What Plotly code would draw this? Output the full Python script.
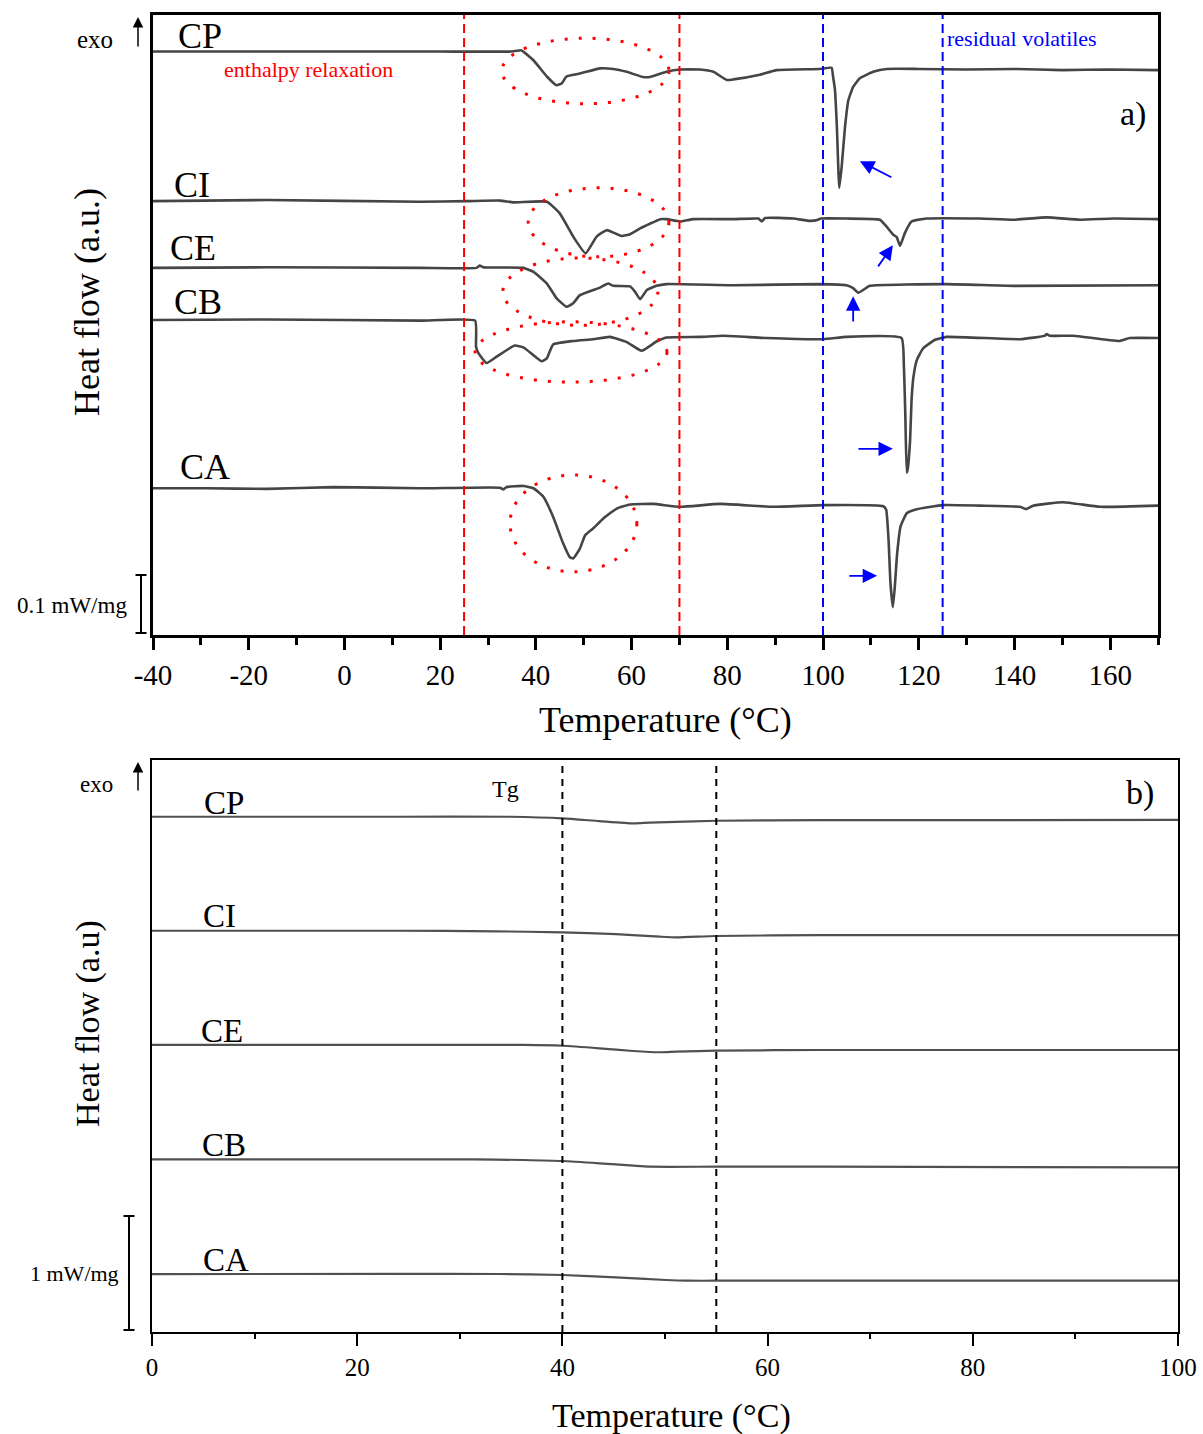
import plotly.graph_objects as go

# ---------------- data (panel a: heat flow in mW/mg, offset per sample) ----------------
T_CP = [-40, -20, 0, 20, 35.0, 37.0, 39.5, 42.3, 44.3, 45.4, 46.4, 49.2, 53.4, 56.2, 59.0, 62.4, 63.8,
        67.3, 70.1, 74.3, 77.1, 79.9, 81.3, 86.8, 90.3, 99.4, 101.8, 102.1, 102.5, 102.9, 103.4, 103.9,
        104.6, 105.3, 106.3, 107.7, 110.5, 113.3, 120, 130, 140, 150, 160, 170]
HF_CP = [1.006, 1.006, 1.006, 1.006, 1.006, 1.008, 0.991, 0.963, 0.948, 0.951, 0.963, 0.968, 0.977, 0.976,
         0.971, 0.962, 0.962, 0.971, 0.975, 0.975, 0.971, 0.957, 0.958, 0.966, 0.974, 0.976, 0.978, 0.963,
         0.940, 0.876, 0.771, 0.807, 0.876, 0.922, 0.945, 0.960, 0.971, 0.976, 0.976, 0.975, 0.976, 0.974,
         0.975, 0.974]

T_CI = [-40, -16.2, 15.8, 25.5, 32.5, 35.3, 42.3, 45.0, 47.8, 50.4, 52.7, 54.8, 57.9, 59.7, 61.8, 66.0,
        67.3, 70.1, 72.9, 81.3, 86.5, 87.2, 87.9, 93.8, 97.3, 99.0, 99.5, 104.9, 111.9, 113.3, 114.7,
        115.4, 116.1, 117.1, 118.5, 121.7, 132.8, 139.8, 146.7, 153.7, 160.7, 170]
HF_CI = [0.748, 0.750, 0.747, 0.748, 0.749, 0.746, 0.747, 0.727, 0.687, 0.658, 0.687, 0.698, 0.688, 0.691,
         0.701, 0.717, 0.717, 0.713, 0.717, 0.717, 0.718, 0.713, 0.719, 0.718, 0.714, 0.716, 0.718, 0.718,
         0.716, 0.704, 0.690, 0.686, 0.671, 0.693, 0.713, 0.718, 0.718, 0.716, 0.720, 0.716, 0.718, 0.717]

T_CE = [-40, -16.2, 15.8, 27.6, 28.3, 29.0, 37.4, 39.5, 42.3, 44.3, 46.4, 47.8, 49.2, 53.4, 55.1, 56.2,
        59.7, 60.7, 61.8, 63.2, 65.2, 67.3, 81.3, 99.4, 104.9, 106.3, 107.4, 108.4, 109.8, 125.8, 139.8, 170]
HF_CE = [0.633, 0.634, 0.633, 0.633, 0.637, 0.634, 0.633, 0.626, 0.606, 0.581, 0.566, 0.572, 0.586, 0.599,
         0.606, 0.602, 0.601, 0.592, 0.579, 0.595, 0.602, 0.605, 0.603, 0.605, 0.603, 0.598, 0.590, 0.595,
         0.602, 0.605, 0.602, 0.603]

T_CB = [-40, -16.2, 15.8, 27.3, 27.5, 28.0, 29.7, 31.8, 35.6, 37.4, 41.2, 42.3, 43.6, 47.8, 52.0, 55.5,
        59.0, 62.1, 65.2, 67.3, 74.3, 79.2, 88.2, 100.1, 104.9, 116.4, 116.9, 117.2, 117.5, 117.7, 118.2,
        118.5, 118.9, 119.6, 120.9, 123.4, 125.8, 141.2, 146.4, 146.7, 147.4, 152.3, 162.0, 164.1, 170]
HF_CB = [0.543, 0.544, 0.542, 0.542, 0.497, 0.486, 0.469, 0.480, 0.499, 0.496, 0.472, 0.477, 0.501, 0.507,
         0.510, 0.514, 0.505, 0.490, 0.506, 0.513, 0.514, 0.516, 0.512, 0.510, 0.514, 0.512, 0.463, 0.380,
         0.280, 0.286, 0.336, 0.405, 0.445, 0.474, 0.494, 0.509, 0.514, 0.510, 0.516, 0.519, 0.516, 0.516,
         0.507, 0.512, 0.512]

T_CA = [-40, -28.8, -16.2, -2.3, 15.8, 32.5, 33.2, 33.9, 37.4, 39.5, 41.6, 43.6, 45.7, 47.1, 47.8, 49.2,
        50.3, 52.0, 54.1, 56.9, 59.7, 64.5, 70.1, 78.5, 89.6, 100.1, 112.6, 113.2, 113.7, 114.1, 114.6,
        115.0, 115.5, 116.2, 117.5, 119.6, 125.1, 132.8, 141.2, 142.4, 143.9, 150.2, 157.9, 170]
HF_CA = [0.253, 0.253, 0.252, 0.255, 0.253, 0.254, 0.251, 0.255, 0.257, 0.253, 0.238, 0.204, 0.158, 0.134,
         0.132, 0.149, 0.172, 0.184, 0.201, 0.218, 0.225, 0.226, 0.221, 0.226, 0.221, 0.224, 0.222, 0.216,
         0.164, 0.089, 0.048, 0.083, 0.141, 0.187, 0.210, 0.217, 0.224, 0.223, 0.221, 0.217, 0.223, 0.229,
         0.221, 0.223]

# ---------------- data (panel b) ----------------
TB_CP = [0, 24.2, 34.9, 40.0, 43.6, 46.9, 48.5, 55.0, 65.1, 80, 100]
HB_CP = [4.520, 4.520, 4.520, 4.506, 4.482, 4.462, 4.468, 4.485, 4.491, 4.491, 4.492]
TB_CI = [0, 24.2, 33.5, 40.0, 45.2, 49.5, 51.1, 55.0, 65.1, 100]
HB_CI = [3.520, 3.520, 3.515, 3.506, 3.491, 3.468, 3.462, 3.474, 3.482, 3.482]
TB_CE = [0, 24.2, 36.2, 40.0, 43.6, 46.9, 49.5, 51.1, 55.0, 65.1, 100]
HB_CE = [2.518, 2.518, 2.518, 2.511, 2.489, 2.465, 2.454, 2.459, 2.468, 2.474, 2.474]
TB_CB = [0, 31.4, 36.2, 40.0, 43.6, 46.9, 48.5, 55.0, 65.1, 100]
HB_CB = [1.515, 1.515, 1.509, 1.500, 1.480, 1.459, 1.450, 1.450, 1.450, 1.445]
TB_CA = [0, 24.2, 33.9, 40.0, 45.2, 50.1, 52.1, 55.0, 65.1, 100]
HB_CA = [0.508, 0.510, 0.509, 0.500, 0.480, 0.456, 0.450, 0.450, 0.450, 0.450]

TOP_TICKS = [-40, -20, 0, 20, 40, 60, 80, 100, 120, 140, 160]
TOP_TICK_LABELS = ["-40", "-20", "0", "20", "40", "60", "80", "100", "120", "140", "160"]
TOP_MINOR = [-30, -10, 10, 30, 50, 70, 90, 110, 130, 150, 170]
BOT_TICKS = [0, 20, 40, 60, 80, 100]
BOT_TICK_LABELS = ["0", "20", "40", "60", "80", "100"]
BOT_MINOR = [10, 30, 50, 70, 90]

SAMPLES = ["CP", "CI", "CE", "CB", "CA"]
TOP_SERIES = [(T_CP, HF_CP), (T_CI, HF_CI), (T_CE, HF_CE), (T_CB, HF_CB), (T_CA, HF_CA)]
BOT_SERIES = [(TB_CP, HB_CP), (TB_CI, HB_CI), (TB_CE, HB_CE), (TB_CB, HB_CB), (TB_CA, HB_CA)]

# ---------------- figure ----------------
W, H = 1203, 1434
def px(x):
    return x / W
def py(y):
    return 1 - y / H

FONT = "Liberation Serif"
fig = go.Figure()
for name, (t, h) in zip(SAMPLES, TOP_SERIES):
    fig.add_trace(go.Scatter(x=t, y=h, mode="lines", name=name, xaxis="x", yaxis="y",
                             line=dict(color="#454545", width=2.6, shape="spline", smoothing=0.4)))
for name, (t, h) in zip(SAMPLES, BOT_SERIES):
    fig.add_trace(go.Scatter(x=t, y=h, mode="lines", name=name, xaxis="x2", yaxis="y2",
                             line=dict(color="#505050", width=2.2, shape="spline", smoothing=0.6)))

axis_common = dict(showline=True, mirror=True, linecolor="black", showgrid=False, zeroline=False,
                   automargin=False)

shapes = []
# red dashed (enthalpy relaxation) and blue dashed (residual volatiles)
for xv, col in [(25, "#FF0000"), (70, "#FF0000"), (100, "#0000FF"), (125, "#0000FF")]:
    shapes.append(dict(type="line", xref="x", yref="y domain", x0=xv, x1=xv, y0=0, y1=1,
                       line=dict(color=col, width=2, dash="9px,5px")))
# black dashed Tg lines
for xv in [40, 55]:
    shapes.append(dict(type="line", xref="x2", yref="y2 domain", x0=xv, x1=xv, y0=0, y1=0.995,
                       line=dict(color="black", width=2, dash="7px,6px")))
# red dotted ellipses
ELLIPSES = [(32.9, 67.8, 0.916, 1.029), (38.4, 67.8, 0.652, 0.771), (33.1, 65.5, 0.534, 0.650),
            (27.3, 67.4, 0.436, 0.540), (34.6, 61.1, 0.109, 0.276)]
for x0, x1, y0, y1 in ELLIPSES:
    shapes.append(dict(type="circle", xref="x", yref="y", x0=x0, x1=x1, y0=y0, y1=y1,
                       line=dict(color="#FF0000", width=3, dash="3px,11px")))
# scale bars
for xs, y0, y1 in [(141, 575, 633), (129, 1216, 1330)]:
    shapes.append(dict(type="line", xref="paper", yref="paper", x0=px(xs), x1=px(xs), y0=py(y0), y1=py(y1),
                       line=dict(color="black", width=2)))
    for yy in (y0, y1):
        shapes.append(dict(type="line", xref="paper", yref="paper", x0=px(xs - 5.5), x1=px(xs + 5.5),
                           y0=py(yy), y1=py(yy), line=dict(color="black", width=2)))

ann = []
def text(x, y, s, size, color="black", xref="paper", yref="paper", angle=0):
    ann.append(dict(x=x, y=y, xref=xref, yref=yref, text=s, showarrow=False, textangle=angle,
                    font=dict(family=FONT, size=size, color=color), xanchor="center", yanchor="middle"))

# sample labels panel a
for s, (xx, yy) in zip(SAMPLES, [(200, 36), (192, 185), (193, 248), (198, 302), (205, 467)]):
    text(px(xx), py(yy), s, 36)
# sample labels panel b
for s, (xx, yy) in zip(SAMPLES, [(224, 803), (219, 916), (222, 1031), (224, 1145), (226, 1260)]):
    text(px(xx), py(yy), s, 33)

text(px(308), py(70), "enthalpy relaxation", 22, "#FF0000")
text(px(1022), py(38), "residual volatiles", 22, "#0000FF")
text(px(1133), py(114), "a)", 34)
text(px(1140), py(793), "b)", 34)
text(px(505), py(789), "Tg", 24)
text(px(95), py(40), "exo", 25)
text(px(96), py(784), "exo", 23)
text(px(72), py(605), "0.1 mW/mg", 23)
text(px(74), py(1273), "1 mW/mg", 22)
text(px(87), py(302), "Heat flow (a.u.)", 36, angle=-90)
text(px(88), py(1024), "Heat flow (a.u)", 34, angle=-90)
text(px(665), py(720), "Temperature (°C)", 36)
text(px(671), py(1416), "Temperature (°C)", 34)

# exo arrows
for yh, yt in [(17, 48), (762, 792)]:
    ann.append(dict(x=px(138), y=py(yh), xref="paper", yref="paper", text="", showarrow=True,
                    ax=0, ay=yt - yh, arrowhead=2, arrowsize=1.4, arrowwidth=1.5, arrowcolor="black",
                    standoff=0))
# blue arrows: (head T, head HF, tail T, tail HF)
BLUE_ARROWS = [(107.7, 0.817, 114.6, 0.788), (114.6, 0.672, 111.3, 0.633), (106.3, 0.584, 106.3, 0.538),
               (114.6, 0.321, 107.1, 0.321), (111.3, 0.102, 105.2, 0.102)]
for hx, hy, tx, ty in BLUE_ARROWS:
    ann.append(dict(x=hx, y=hy, xref="x", yref="y", ax=tx, ay=ty, axref="x", ayref="y", text="",
                    showarrow=True, arrowhead=2, arrowsize=1.6, arrowwidth=1.8, arrowcolor="#0000FF",
                    standoff=0))

fig.update_layout(
    template="none",
    width=W, height=H, autosize=False,
    margin=dict(l=0, r=0, t=0, b=0, autoexpand=False),
    paper_bgcolor="white", plot_bgcolor="white", showlegend=False,
    xaxis=dict(domain=[px(153), px(1158)], range=[-40, 170], anchor="y", linewidth=2.5,
               ticks="outside", ticklen=12, tickwidth=2.5, tickcolor="black",
               tickmode="array", tickvals=TOP_TICKS, ticktext=TOP_TICK_LABELS,
               tickfont=dict(family=FONT, size=29, color="black"),
               minor=dict(ticks="outside", ticklen=7, tickwidth=2.5, tickcolor="black",
                          tickmode="array", tickvals=TOP_MINOR),
               **axis_common),
    yaxis=dict(domain=[py(635), py(15)], range=[0, 1.069], anchor="x", linewidth=2.5,
               ticks="", showticklabels=False, **axis_common),
    xaxis2=dict(domain=[px(152), px(1178)], range=[0, 100], anchor="y2", linewidth=2.2,
                ticks="outside", ticklen=12, tickwidth=2.2, tickcolor="black",
                tickmode="array", tickvals=BOT_TICKS, ticktext=BOT_TICK_LABELS,
                tickfont=dict(family=FONT, size=25, color="black"),
                minor=dict(ticks="outside", ticklen=5, tickwidth=2.2, tickcolor="black",
                           tickmode="array", tickvals=BOT_MINOR),
                **axis_common),
    yaxis2=dict(domain=[py(1332), py(760)], range=[0, 5.018], anchor="x2", linewidth=2.2,
                ticks="", showticklabels=False, **axis_common),
    shapes=shapes,
    annotations=ann,
)

fig.write_html("out.html", config={"displayModeBar": False},
               post_script="document.body.style.margin='0px';")
